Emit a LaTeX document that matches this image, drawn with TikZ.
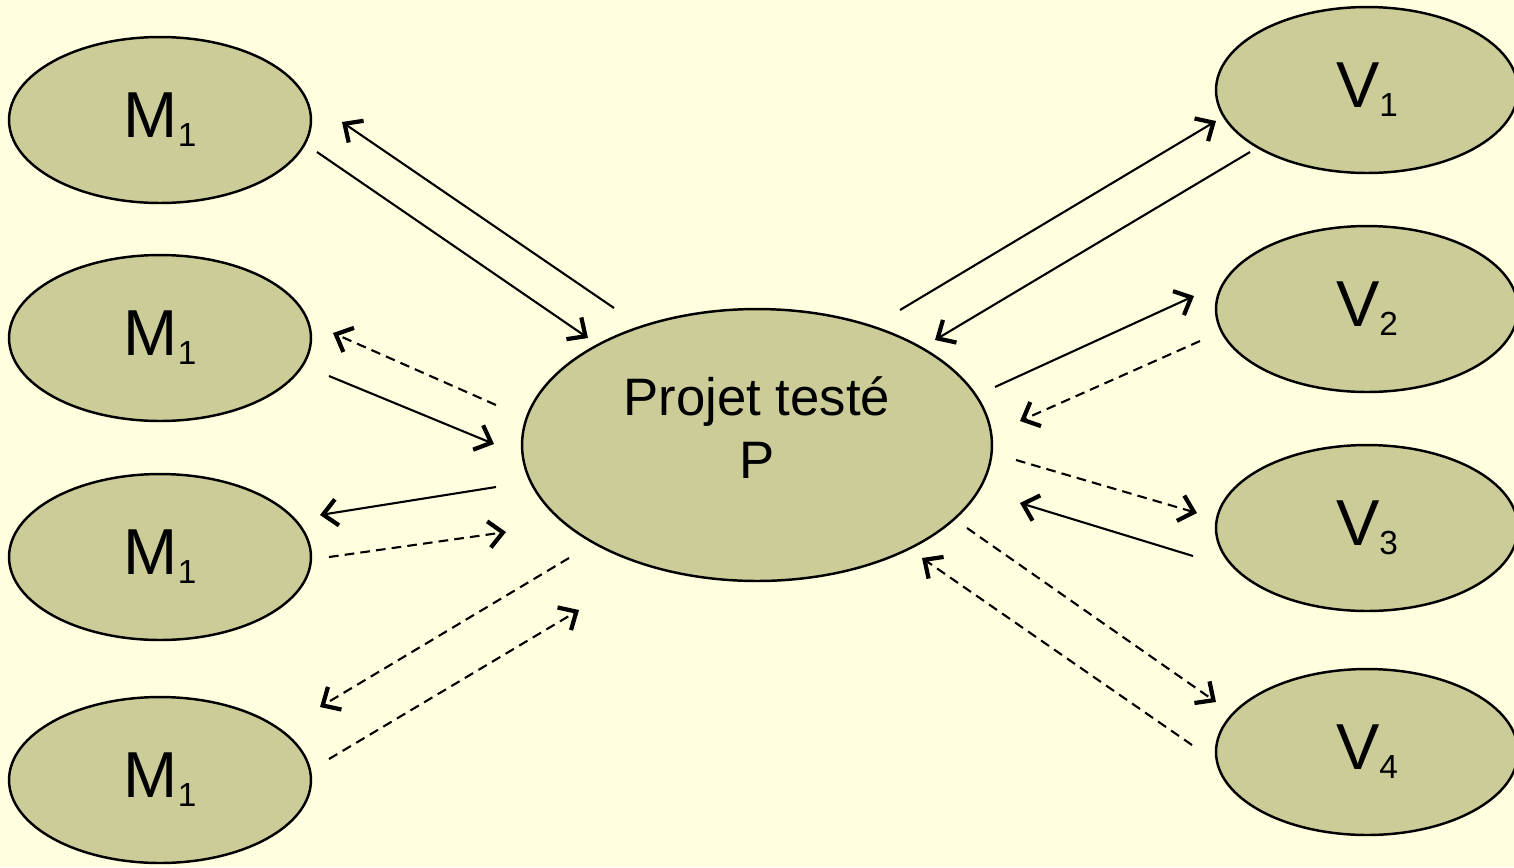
\documentclass[tikz,border=0pt]{standalone}
\usepackage{fontspec}
\setmainfont{Liberation Sans}
\usetikzlibrary{shapes.geometric, arrows.meta, positioning}
\definecolor{paper}{HTML}{FFFFE0}
\definecolor{olive}{HTML}{CCCC99}
\newcommand{\lowsub}[1]{\raisebox{-5pt}{\fontsize{19}{19}\selectfont #1}}
\tikzset{
  x=0.02cm, y=-0.02cm, % one unit is one pixel of the original slide
  >={Straight Barb[length=8pt, width=15pt, line width=2.4pt]}, % open arrow heads
  actor/.style={ellipse, draw, line width=1.4pt, fill=olive, inner sep=0pt,
    minimum width=6.04cm, minimum height=3.32cm, font=\fontsize{37}{40}\selectfont},
  project/.style={ellipse, draw, line width=1.4pt, fill=olive, inner sep=0pt,
    minimum width=9.4cm, minimum height=5.44cm,
    font=\fontsize{30}{36}\selectfont},
  link/.style={->, line width=1.2pt}, % plain link
  weak/.style={link, dash pattern=on 5.5pt off 3.5pt}, % dashed link
}

\begin{document}
\begin{tikzpicture}
      \fill[paper] (0,0) rectangle (1514,867);
      \useasboundingbox (0,0) rectangle (1514,867);

      \node[project] (P) at (757,445)
        {\smash{\begin{tabular}{@{}c@{}}Projet testé\\P\end{tabular}}};
      \node[actor] (M1) at (160,120) {M\lowsub{1}};
      \node[actor] (M2) at (160,338) {M\lowsub{1}};
      \node[actor] (M3) at (160,557) {M\lowsub{1}};
      \node[actor] (M4) at (160,780) {M\lowsub{1}};
      \node[actor] (V1) at (1367,90) {V\lowsub{1}};
      \node[actor] (V2) at (1367,309) {V\lowsub{2}};
      \node[actor] (V3) at (1367,528) {V\lowsub{3}};
      \node[actor] (V4) at (1367,752) {V\lowsub{4}};

      % ends of the links on the left
      \coordinate (m1a) at (614,308);  \coordinate (m1b) at (342,122);
      \coordinate (m1c) at (317,152);  \coordinate (m1d) at (588,338);
      \coordinate (m2a) at (496,405);  \coordinate (m2b) at (333,333);
      \coordinate (m2c) at (329,376);  \coordinate (m2d) at (494,444);
      \coordinate (m3a) at (496,487);  \coordinate (m3b) at (320,515);
      \coordinate (m3c) at (329,557);  \coordinate (m3d) at (506,532);
      \coordinate (m4a) at (569,558);  \coordinate (m4b) at (320,707);
      \coordinate (m4c) at (329,759);  \coordinate (m4d) at (579,610);
      % ends of the links on the right
      \coordinate (v1a) at (900,310);  \coordinate (v1b) at (1216,121);
      \coordinate (v1c) at (1250,152); \coordinate (v1d) at (935,340);
      \coordinate (v2a) at (995,387);  \coordinate (v2b) at (1194,296);
      \coordinate (v2c) at (1200,341); \coordinate (v2d) at (1020,421);
      \coordinate (v3a) at (1016,460); \coordinate (v3b) at (1197,513);
      \coordinate (v3c) at (1193,556); \coordinate (v3d) at (1020,503);
      \coordinate (v4a) at (967,528);  \coordinate (v4b) at (1216,702);
      \coordinate (v4c) at (1192,745); \coordinate (v4d) at (922,558);

      \draw
      (m1a) edge[link] (m1b)
      (m1c) edge[link] (m1d)
      (m2a) edge[weak] (m2b)
      (m2c) edge[link] (m2d)
      (m3a) edge[link] (m3b)
      (m3c) edge[weak] (m3d)
      (m4a) edge[weak] (m4b)
      (m4c) edge[weak] (m4d)
      (v1a) edge[link] (v1b)
      (v1c) edge[link] (v1d)
      (v2a) edge[link] (v2b)
      (v2c) edge[weak] (v2d)
      (v3a) edge[weak] (v3b)
      (v3c) edge[link] (v3d)
      (v4a) edge[weak] (v4b)
      (v4c) edge[weak] (v4d)
      ;
    \end{tikzpicture}
\end{document}
